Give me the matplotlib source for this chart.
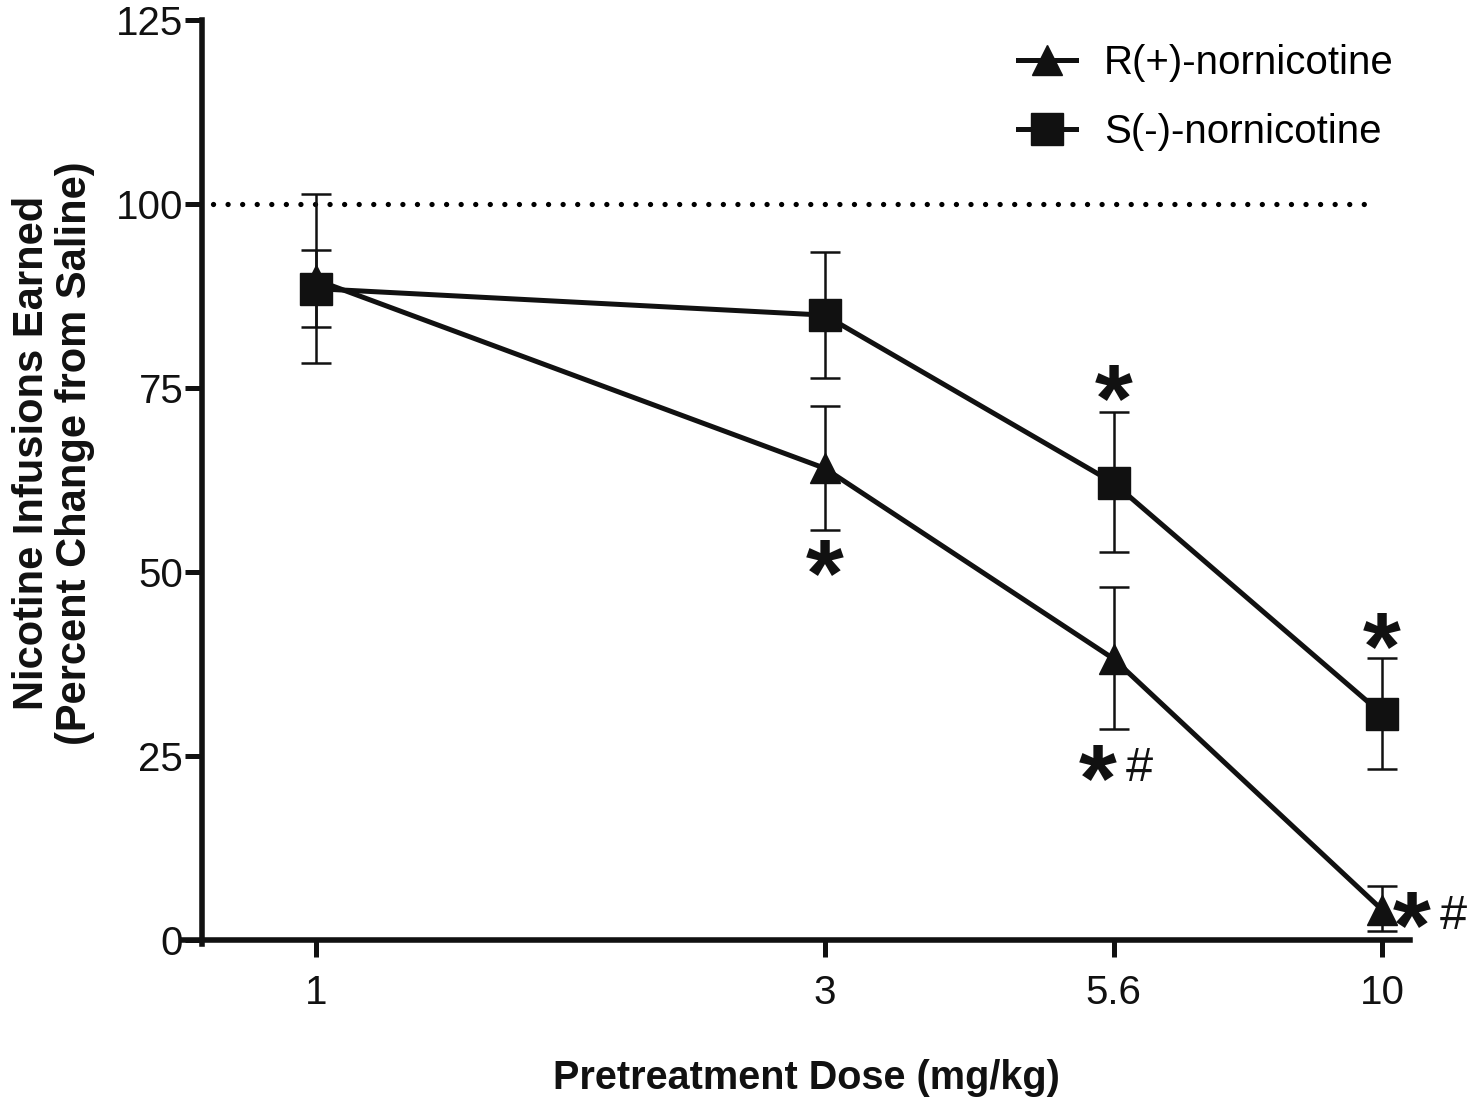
import matplotlib
matplotlib.use("Agg")
import matplotlib.pyplot as plt
from matplotlib.lines import Line2D

# 데이터
doses = [1, 3, 5.6, 10]
dose_labels = ["1", "3", "5.6", "10"]

r_mean = [89.7, 64.1, 38.2, 4.1]
r_upper = [93.8, 72.6, 48.0, 7.3]
r_lower = [83.3, 55.7, 28.7, 1.2]

s_mean = [88.5, 84.9, 62.1, 30.7]
s_upper = [101.4, 93.5, 71.7, 38.3]
s_lower = [78.4, 76.4, 52.7, 23.2]

y_ticks = [0, 25, 50, 75, 100, 125]
saline_level = 100

# 유의성 표시: (x, y, x 오프셋(pt), 추가 문자)
star_marks = [(3, 51.6, 0.0, ""), (5.6, 75.4, 0.0, ""), (10, 41.7, 0.0, ""),
              (5.6, 23.8, -11.5, "#"), (10, 3.8, 21.5, "#")]

FONT = ["Liberation Sans", "DejaVu Sans"]
plt.rcParams["font.family"] = FONT

fig = plt.figure(figsize=(14.78, 10.97), dpi=100)
ax = fig.add_axes([202 / 1478, 1 - 940 / 1097, (1410 - 202) / 1478, 920 / 1097])

ax.set_xscale("log")
ax.set_xlim(0.782, 10.62)
ax.set_ylim(0, 125)

# 식염수 기준선 (점선)
ax.plot([0.8, 9.65], [saline_level, saline_level], color="black", lw=3.8,
        linestyle=(0, (0.01, 2.75)), dash_capstyle="round", zorder=1)


def err(mean, up, lo):
    return [[m - l for m, l in zip(mean, lo)], [u - m for m, u in zip(mean, up)]]


ax.errorbar(doses, r_mean, yerr=err(r_mean, r_upper, r_lower), color="#111111",
            lw=3.6, marker="^", markersize=22, elinewidth=1.8, capsize=11,
            capthick=1.8, zorder=3)
ax.errorbar(doses, s_mean, yerr=err(s_mean, s_upper, s_lower), color="#111111",
            lw=3.6, marker="s", markersize=23, elinewidth=1.8, capsize=11,
            capthick=1.8, zorder=4)

# 별표와 # 표시
for x, y, dx, extra in star_marks:
    ax.annotate("*", xy=(x, y), xytext=(dx, -33), textcoords="offset points",
                ha="center", va="baseline", fontsize=70, fontweight="bold",
                color="#111111", annotation_clip=False)
    if extra:
        ax.annotate(extra, xy=(x, y), xytext=(dx + 30, -12), textcoords="offset points",
                    ha="center", va="baseline", fontsize=35,
                    color="#111111", annotation_clip=False)

# 축 설정
for side in ["top", "right"]:
    ax.spines[side].set_visible(False)
for side in ["left", "bottom"]:
    ax.spines[side].set_linewidth(4)
    ax.spines[side].set_color("#111111")
ax.spines["bottom"].set_bounds(0.75, 10.62)
ax.spines["left"].set_bounds(-0.55, 125)

ax.set_xticks(doses)
ax.set_xticklabels(dose_labels)
ax.xaxis.set_minor_locator(matplotlib.ticker.NullLocator())
ax.set_yticks(y_ticks)
ax.tick_params(axis="both", direction="out", length=12.5, width=3.6, color="#111111",
               labelsize=29, labelcolor="#111111")
ax.tick_params(axis="x", pad=12)
ax.tick_params(axis="y", pad=1)

ax.set_xlabel("Pretreatment Dose (mg/kg)", fontsize=28.5, fontweight="bold",
              color="#111111", labelpad=34)
ax.set_ylabel("Nicotine Infusions Earned\n(Percent Change from Saline)", fontsize=30,
              fontweight="bold", color="#111111", linespacing=1.1)
ax.yaxis.set_label_coords(-0.0886, 0.529)

handles = [Line2D([], [], color="#111111", lw=3.6, marker="^", markersize=22),
           Line2D([], [], color="#111111", lw=3.6, marker="s", markersize=23)]
ax.legend(handles, ["R(+)-nornicotine", "S(-)-nornicotine"], loc="upper right",
          bbox_to_anchor=(1.0, 0.991), frameon=False, fontsize=29, handlelength=1.45,
          handletextpad=0.7, labelspacing=0.75, borderaxespad=0.0)

fig.savefig("out.png", dpi=100)
